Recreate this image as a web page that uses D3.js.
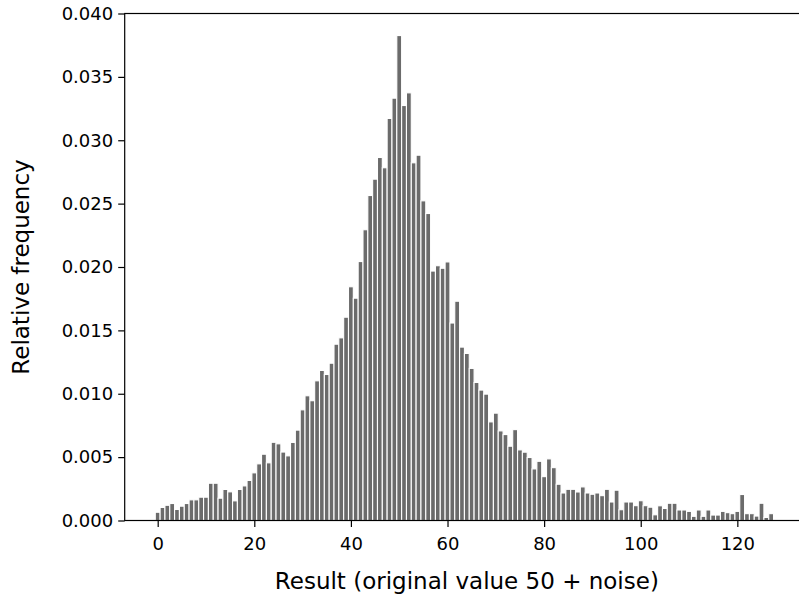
<!DOCTYPE html>
<html lang="en">
<head>
<meta charset="utf-8" />
<title>Histogram</title>
<script src="https://d3js.org/d3.v7.min.js"></script>
<style>
  body { margin: 0; background: white; }
  svg { display: block; font-family: "DejaVu Sans", sans-serif; }
  .axis text { font-family: "DejaVu Sans", sans-serif; font-size: 18px; fill: black; }
  .axis path, .axis line { stroke: black; stroke-width: 1.2px; }
  .label { font-family: "DejaVu Sans", sans-serif; font-size: 23px; fill: black; }
</style>
</head>
<body>
<div id="chart"></div>
<script>
// relative frequency of each integer result 0..127
var firstResult = 0;
var freq = [
  0.00065, 0.00103, 0.00120, 0.00134, 0.00087, 0.00113, 0.00134, 0.00163, 0.00163, 0.00184,
  0.00184, 0.00294, 0.00294, 0.00176, 0.00245, 0.00226, 0.00155, 0.00245, 0.00273, 0.00316,
  0.00376, 0.00447, 0.00523, 0.00455, 0.00617, 0.00605, 0.00540, 0.00510, 0.00616, 0.00713,
  0.00873, 0.00984, 0.00945, 0.01102, 0.01184, 0.01152, 0.01241, 0.01391, 0.01441, 0.01604,
  0.01844, 0.01754, 0.02043, 0.02294, 0.02564, 0.02693, 0.02864, 0.02783, 0.03172, 0.03332,
  0.03826, 0.03274, 0.03374, 0.02822, 0.02882, 0.02522, 0.02422, 0.01968, 0.02010, 0.01990,
  0.02040, 0.01558, 0.01730, 0.01368, 0.01318, 0.01200, 0.01089, 0.01029, 0.00997, 0.00778,
  0.00847, 0.00707, 0.00678, 0.00586, 0.00717, 0.00557, 0.00539, 0.00497, 0.00407, 0.00467,
  0.00346, 0.00486, 0.00417, 0.00286, 0.00217, 0.00246, 0.00246, 0.00225, 0.00265, 0.00217,
  0.00207, 0.00217, 0.00196, 0.00246, 0.00146, 0.00239, 0.00085, 0.00146, 0.00146, 0.00117,
  0.00156, 0.00117, 0.00105, 0.00045, 0.00116, 0.00095, 0.00136, 0.00136, 0.00083, 0.00083,
  0.00072, 0.00033, 0.00083, 0.00033, 0.00083, 0.00043, 0.00043, 0.00072, 0.00062, 0.00054,
  0.00072, 0.00205, 0.00054, 0.00054, 0.00035, 0.00136, 0.00024, 0.00054
];
var xTicks = [0, 20, 40, 60, 80, 100, 120];
var yTicks = [0, 0.005, 0.010, 0.015, 0.020, 0.025, 0.030, 0.035, 0.040];
var xTitle = "Result (original value 50 + noise)";
var yTitle = "Relative frequency";

var width = 799, height = 599;
var plotLeft = 124.7, plotRight = 804, plotTop = 13.5, plotBottom = 520.5;

var x = d3.scaleLinear().domain([-6.83, 133.8]).range([plotLeft, plotRight]);
var y = d3.scaleLinear().domain([0, 0.04]).range([plotBottom, plotTop]);

var svg = d3.select("#chart").append("svg")
    .attr("width", width)
    .attr("height", height);

svg.append("g")
  .selectAll("rect")
  .data(freq)
  .join("rect")
    .attr("x", function(d, i) { return x(firstResult + i - 0.5); })
    .attr("width", function(d, i) { return x(firstResult + i + 0.5) - x(firstResult + i - 0.5); })
    .attr("y", function(d) { return y(d); })
    .attr("height", function(d) { return y(0) - y(d); })
    .attr("fill", "#6b6b6b")
    .attr("stroke", "white")
    .attr("stroke-width", 1.1);

var xAxis = svg.append("g")
    .attr("class", "axis")
    .attr("transform", "translate(0," + plotBottom + ")")
    .call(d3.axisBottom(x).tickValues(xTicks).tickSize(6.5).tickPadding(9).tickSizeOuter(0));
xAxis.select(".domain").remove();
xAxis.selectAll("text").attr("dy", "0.8em");

var yAxis = svg.append("g")
    .attr("class", "axis")
    .attr("transform", "translate(" + plotLeft + ",0)")
    .call(d3.axisLeft(y).tickValues(yTicks).tickFormat(d3.format(".3f")).tickSize(6.5).tickPadding(5).tickSizeOuter(0));
yAxis.select(".domain").remove();

// frame (right side falls outside the picture)
svg.append("rect")
    .attr("x", plotLeft).attr("y", plotTop)
    .attr("width", plotRight - plotLeft).attr("height", plotBottom - plotTop)
    .attr("fill", "none").attr("stroke", "black").attr("stroke-width", 1.2);

svg.append("text")
    .attr("class", "label")
    .attr("x", (plotLeft + 799) / 2 + 5)
    .attr("y", 589)
    .attr("text-anchor", "middle")
    .text(xTitle);

svg.append("text")
    .attr("class", "label")
    .attr("transform", "translate(29," + (plotTop + plotBottom) / 2 + ") rotate(-90)")
    .attr("text-anchor", "middle")
    .text(yTitle);
</script>
</body>
</html>
